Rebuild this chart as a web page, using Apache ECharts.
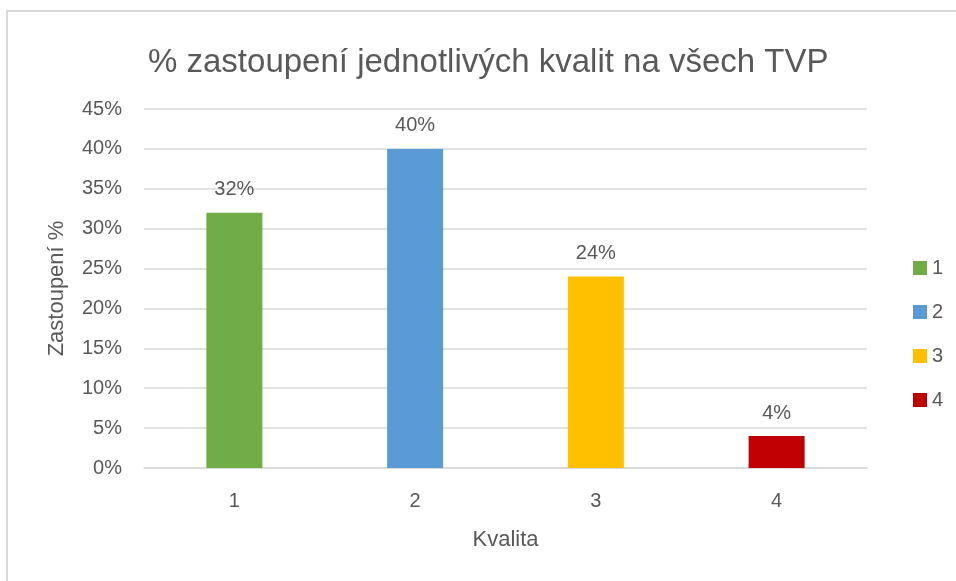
<!DOCTYPE html>
<html>
<head>
<meta charset="utf-8">
<script src="https://cdn.jsdelivr.net/npm/echarts@6/dist/echarts.min.js"></script>
<style>
  html, body { margin: 0; padding: 0; background: #fff; }
  #chart { width: 956px; height: 581px; }
</style>
</head>
<body>
<div id="chart"></div>
<script>
var categories = ['1', '2', '3', '4'];
var values = [32, 40, 24, 4];
var colors = ['#70AD47', '#5B9BD5', '#FFC000', '#C00000'];
var yTicks = [0, 5, 10, 15, 20, 25, 30, 35, 40, 45];

var textColor = '#595959';
var font = 'Liberation Sans';

var chart = echarts.init(document.getElementById('chart'));

// one series per quality so the legend shows each colour
var series = categories.map(function (name, i) {
    var data = categories.map(function (c, j) { return j === i ? values[i] : '-'; });
    return {
        name: name,
        type: 'bar',
        stack: 'all',
        barWidth: 56,
        data: data,
        itemStyle: { color: colors[i] },
        label: {
            show: true,
            position: 'top',
            distance: 13,
            formatter: '{c}%',
            color: textColor,
            fontFamily: font,
            fontSize: 20
        }
    };
});

var option = {
    animation: false,
    title: {
        text: '% zastoupení jednotlivých kvalit na všech TVP',
        left: 143,
        top: 41,
        textStyle: { color: textColor, fontFamily: font, fontSize: 33, fontWeight: 'normal' }
    },
    graphic: [{
        type: 'rect',
        shape: { x: 7, y: 11, width: 1000, height: 620 },
        style: { fill: 'none', stroke: '#d9d9d9', lineWidth: 2 },
        silent: true
    }],
    legend: {
        orient: 'vertical',
        left: 908,
        top: 253,
        itemWidth: 14,
        itemHeight: 14,
        itemGap: 24,
        icon: 'rect',
        textStyle: { color: textColor, fontFamily: font, fontSize: 20 },
        data: categories
    },
    grid: { left: 144, right: 89, top: 109, bottom: 113 },
    xAxis: {
        type: 'category',
        data: categories,
        name: 'Kvalita',
        nameLocation: 'middle',
        nameGap: 61,
        nameTextStyle: { color: textColor, fontFamily: font, fontSize: 22 },
        axisLine: { lineStyle: { color: '#d9d9d9', width: 1.5 } },
        axisTick: { show: false },
        axisLabel: { color: textColor, fontFamily: font, fontSize: 20, margin: 23 }
    },
    yAxis: {
        type: 'value',
        min: yTicks[0],
        max: yTicks[yTicks.length - 1],
        interval: 5,
        name: 'Zastoupení %',
        nameLocation: 'middle',
        nameGap: 76,
        nameTextStyle: { color: textColor, fontFamily: font, fontSize: 22 },
        axisLine: { show: false },
        axisTick: { show: false },
        axisLabel: { color: textColor, fontFamily: font, fontSize: 20, margin: 22, formatter: '{value}%' },
        splitLine: { lineStyle: { color: '#d9d9d9', width: 1.5 } }
    },
    series: series
};

chart.setOption(option);
</script>
</body>
</html>
